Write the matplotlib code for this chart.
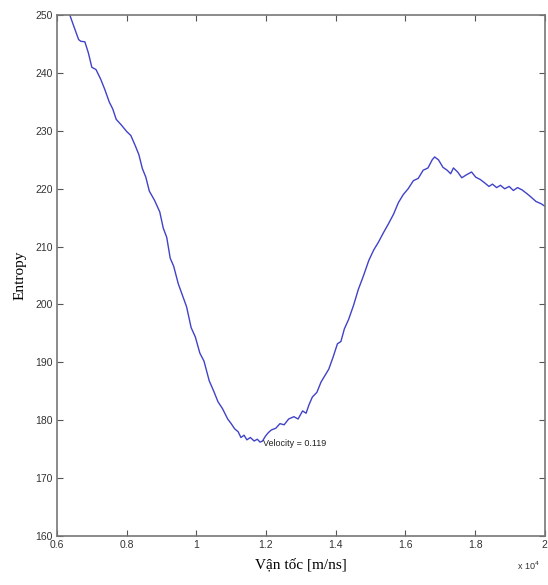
import matplotlib.pyplot as plt

# values (velocity in units of 1e4, entropy)
velocity = [0.637, 0.650, 0.662, 0.668, 0.680, 0.690, 0.700, 0.712, 0.725, 0.737,
            0.750, 0.760, 0.770, 0.785, 0.800, 0.812, 0.825, 0.835, 0.845, 0.855,
            0.865, 0.880, 0.895, 0.905, 0.915, 0.925, 0.935, 0.948, 0.960, 0.972,
            0.985, 0.997, 1.010, 1.022, 1.037, 1.050, 1.062, 1.075, 1.090, 1.100,
            1.110, 1.120, 1.128, 1.137, 1.145, 1.155, 1.166, 1.175, 1.183, 1.190,
            1.198, 1.206, 1.215, 1.228, 1.240, 1.252, 1.265, 1.280, 1.292, 1.305,
            1.315, 1.323, 1.333, 1.346, 1.358, 1.370, 1.380, 1.392, 1.405, 1.415,
            1.425, 1.437, 1.451, 1.465, 1.480, 1.495, 1.509, 1.523, 1.537, 1.552,
            1.566, 1.580, 1.594, 1.608, 1.623, 1.637, 1.651, 1.665, 1.677, 1.684,
            1.695, 1.708, 1.720, 1.730, 1.738, 1.750, 1.762, 1.775, 1.790, 1.802,
            1.815, 1.828, 1.840, 1.850, 1.862, 1.873, 1.885, 1.898, 1.910, 1.922,
            1.935, 1.948, 1.960, 1.975, 1.990, 2.000]
entropy = [250.0, 247.8, 245.8, 245.5, 245.4, 243.5, 241.0, 240.6, 239.0, 237.2,
           235.0, 233.8, 232.0, 231.0, 229.9, 229.2, 227.4, 225.9, 223.5, 222.0,
           219.6, 218.0, 216.0, 213.2, 211.6, 208.0, 206.6, 203.6, 201.6, 199.6,
           196.0, 194.4, 191.6, 190.2, 186.8, 185.0, 183.2, 182.0, 180.2, 179.4,
           178.5, 178.0, 177.0, 177.4, 176.6, 177.0, 176.4, 176.7, 176.2, 176.4,
           177.2, 177.8, 178.3, 178.6, 179.4, 179.2, 180.2, 180.6, 180.2, 181.6,
           181.2, 182.6, 184.0, 184.8, 186.6, 187.8, 188.8, 190.8, 193.2, 193.6,
           195.8, 197.4, 199.8, 202.6, 205.0, 207.6, 209.4, 210.8, 212.4, 214.0,
           215.6, 217.6, 219.0, 220.0, 221.4, 221.8, 223.2, 223.6, 225.0, 225.5,
           225.0, 223.7, 223.2, 222.6, 223.6, 222.9, 221.9, 222.4, 222.9, 222.0,
           221.6, 221.0, 220.4, 220.8, 220.2, 220.6, 220.0, 220.4, 219.7, 220.2,
           219.8, 219.2, 218.6, 217.8, 217.4, 217.0]

marker_x = 1.19
marker_y = 176.4
marker_text = 'Velocity = 0.119'

x_ticks = [0.6, 0.8, 1.0, 1.2, 1.4, 1.6, 1.8, 2.0]
x_labels = ['0.6', '0.8', '1', '1.2', '1.4', '1.6', '1.8', '2']
y_ticks = [160, 170, 180, 190, 200, 210, 220, 230, 240, 250]

fig = plt.figure(figsize=(5.48, 5.85), dpi=100)
ax = fig.add_axes([0.104, 0.084, 0.890, 0.890])

ax.plot(velocity, entropy, color='#4042c8', linewidth=1.0)
ax.text(marker_x, marker_y - 0.4, marker_text, fontsize=6.5, color='#222222',
        family='Liberation Sans', va='center', ha='left')

ax.set_xlim(0.6, 2.0)
ax.set_ylim(160, 250)
ax.set_xticks(x_ticks)
ax.set_xticklabels(x_labels)
ax.set_yticks(y_ticks)

for lab in ax.get_xticklabels() + ax.get_yticklabels():
    lab.set_family('Liberation Sans')
    lab.set_fontsize(7.5)
    lab.set_color('#333333')

ax.tick_params(direction='in', top=True, right=True, length=4, width=0.8,
               color='#555555', pad=3)
for sp in ax.spines.values():
    sp.set_color('#777777')
    sp.set_linewidth(1.2)

ax.set_xlabel('Vận tốc [m/ns]', family='Liberation Serif', fontsize=11, labelpad=6)
ax.set_ylabel('Entropy', family='Liberation Serif', fontsize=11, labelpad=6)
fig.text(0.985, 0.025, r'x 10$^4$', fontsize=6.5, family='Liberation Sans',
         ha='right', color='#333333')

fig.savefig('out.png', dpi=100)
